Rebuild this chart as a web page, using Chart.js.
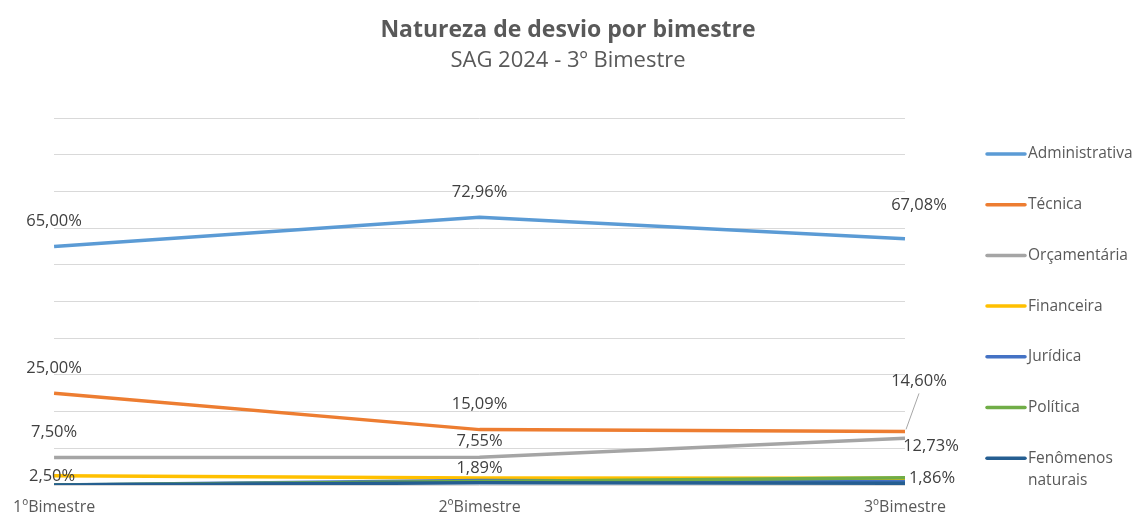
<!DOCTYPE html>
<html lang="pt-BR">
<head>
<meta charset="utf-8">
<title>Natureza de desvio por bimestre</title>
<script src="https://cdn.jsdelivr.net/npm/chart.js@4.4.1/dist/chart.umd.min.js"></script>
<style>
  html, body { margin: 0; padding: 0; background: #fff; }
  #wrap { width: 1136px; height: 514px; position: relative; }
</style>
</head>
<body>
<div id="wrap"><canvas id="chart"></canvas></div>
<script>
// data (percent per bimestre)
const bimestres = ['1ºBimestre', '2ºBimestre', '3ºBimestre'];
const administrativa = [65.00, 72.96, 67.08];
const tecnica = [25.00, 15.09, 14.60];
const orcamentaria = [7.50, 7.55, 12.73];
const financeira = [2.50, 1.89, 1.86];
const juridica = [0, 1.20, 0.90];
const politica = [0, 0.95, 1.95];
const fenomenos = [0, 0.60, 0.50];

const seriesNames = ['Administrativa', 'Técnica', 'Orçamentária', 'Financeira', 'Jurídica', 'Política', 'Fenômenos naturais'];
const seriesValues = [administrativa, tecnica, orcamentaria, financeira, juridica, politica, fenomenos];
const seriesColors = ['#5B9BD5', '#ED7D31', '#A5A5A5', '#FFC000', '#4472C4', '#70AD47', '#255E91'];

// where each data label goes, relative to its point: [dx, dy, leaderLine]
const labelSpots = {
    0: [[0, -25], [0, -25], [14, -34]],
    1: [[0, -25], [0, -25], [14, -50, true]],
    2: [[0, -25], [0, -16], [26, 8]],
    3: [[-2, 0], [0, -10], [27, 0]]
};

const textColor = '#595959';
const labelColor = '#404040';
const fontFamily = "'Open Sans', 'DejaVu Sans', sans-serif";

const fmt = v => v.toFixed(2).replace('.', ',') + '%';

const dataLabels = {
    id: 'dataLabels',
    afterDatasetsDraw(chart) {
        const ctx = chart.ctx;
        ctx.save();
        ctx.font = '16.5px ' + fontFamily;
        ctx.fillStyle = labelColor;
        ctx.textAlign = 'center';
        ctx.textBaseline = 'middle';
        Object.keys(labelSpots).forEach(idx => {
            const meta = chart.getDatasetMeta(+idx);
            const values = chart.data.datasets[idx].data;
            labelSpots[idx].forEach((spot, i) => {
                const pt = meta.data[i];
                const lx = pt.x + spot[0];
                const ly = pt.y + spot[1];
                if (spot[2]) {
                    ctx.strokeStyle = '#A6A6A6';
                    ctx.lineWidth = 1;
                    ctx.beginPath();
                    ctx.moveTo(pt.x + 1, pt.y - 2);
                    ctx.lineTo(lx, ly + 12);
                    ctx.stroke();
                }
                ctx.fillText(fmt(values[i]), lx, ly);
            });
        });
        ctx.restore();
    }
};

// legend on the right, Excel style (second line for long names)
const sideLegend = {
    id: 'sideLegend',
    afterDraw(chart) {
        const ctx = chart.ctx;
        const x0 = 987, lineLen = 38, top = 154, step = 50.7;
        ctx.save();
        ctx.font = '15.5px ' + fontFamily;
        ctx.fillStyle = textColor;
        ctx.textAlign = 'left';
        ctx.textBaseline = 'middle';
        chart.data.datasets.forEach((ds, i) => {
            const y = top + i * step;
            ctx.strokeStyle = ds.borderColor;
            ctx.lineWidth = 3.5;
            ctx.lineCap = 'round';
            ctx.beginPath();
            ctx.moveTo(x0, y);
            ctx.lineTo(x0 + lineLen, y);
            ctx.stroke();
            const words = ds.label.split(' ');
            ctx.fillText(words[0], x0 + lineLen + 3, y);
            if (words.length > 1) ctx.fillText(words.slice(1).join(' '), x0 + lineLen + 3, y + 22);
        });
        ctx.restore();
    }
};

const ctx = document.getElementById('chart').getContext('2d');
new Chart(ctx, {
    type: 'line',
    data: {
        labels: bimestres,
        datasets: seriesNames.map((name, i) => ({
            label: name,
            data: seriesValues[i],
            borderColor: seriesColors[i],
            backgroundColor: seriesColors[i],
            borderWidth: 3.5,
            pointRadius: 0,
            tension: 0,
            yAxisID: 'y',
            order: seriesNames.length - i
        }))
    },
    options: {
        responsive: true,
        maintainAspectRatio: false,
        animation: false,
        layout: { padding: 0 },
        scales: {
            x: {
                offset: false,
                grid: { display: false, drawTicks: false },
                border: { display: false },
                ticks: { color: textColor, font: { family: fontFamily, size: 16 }, padding: 13, maxRotation: 0 },
                afterFit(scale) { scale.height = 29; }
            },
            y: {
                position: 'left',
                min: 0,
                max: 100,
                ticks: { display: false, stepSize: 10 },
                grid: { color: '#D9D9D9', lineWidth: 1, drawTicks: false },
                border: { display: false },
                afterFit(scale) { scale.width = 52; }
            },
            // empty right axis: keeps room for the legend
            side: {
                type: 'linear',
                position: 'right',
                min: 0,
                max: 100,
                ticks: { display: false },
                grid: { display: false, drawTicks: false },
                border: { display: false },
                afterFit(scale) { scale.width = 231; }
            }
        },
        plugins: {
            legend: { display: false },
            tooltip: { enabled: false },
            title: {
                display: true,
                text: 'Natureza de desvio por bimestre',
                color: textColor,
                font: { family: fontFamily, size: 23, weight: 'bold' },
                padding: { top: 17, bottom: 3 }
            },
            subtitle: {
                display: true,
                text: 'SAG 2024 - 3º Bimestre',
                color: textColor,
                font: { family: fontFamily, size: 22 },
                padding: { top: 0, bottom: 44 }
            }
        }
    },
    plugins: [dataLabels, sideLegend]
});
</script>
</body>
</html>
